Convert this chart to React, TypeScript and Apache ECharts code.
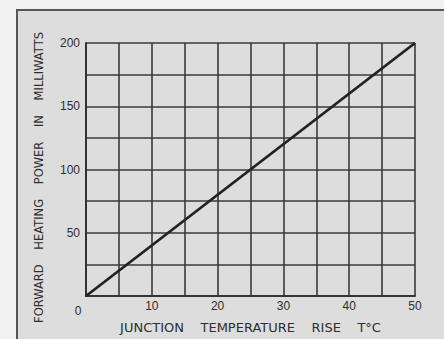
import React, { useEffect, useRef } from "react";
import * as echarts from "echarts";

const temperatureRise = [0, 50];
const heatingPower = [0, 200];
const xTickLabels = ["10", "20", "30", "40", "50"];
const yTickLabels = ["50", "100", "150", "200"];
const xAxisTitle = "JUNCTION    TEMPERATURE    RISE    T°C";
const yAxisTitle = "FORWARD    HEATING    POWER    IN    MILLIWATTS";

export default function App() {
  const ref = useRef<HTMLDivElement>(null);
  useEffect(() => {
    document.body.style.margin = "0";
    document.body.style.background = "#f1f1f1";
    const chart = echarts.init(ref.current!, null, { renderer: "svg" });
    const font = "Liberation Sans";
    const titleFont = "DejaVu Sans";
    const ink = "#2e2e2e";
    chart.setOption({
      animation: false,
      backgroundColor: "#f1f1f1",
      grid: { left: 86, right: 29, top: 43, bottom: 37 },
      graphic: [
        {
          type: "rect",
          z: -10,
          silent: true,
          shape: { x: 17, y: 10, width: 440, height: 340 },
          style: { fill: "#dddddd", stroke: "#555555", lineWidth: 2 },
        },
        {
          type: "text",
          x: 78,
          y: 311,
          style: {
            text: "0",
            font: `12px ${font}`,
            fill: ink,
            align: "center",
            verticalAlign: "middle",
          },
        },
      ],
      xAxis: {
        type: "value",
        min: 0,
        max: 50,
        interval: 5,
        name: xAxisTitle,
        nameLocation: "middle",
        nameGap: 25,
        nameTextStyle: { fontFamily: titleFont, fontSize: 13, color: ink },
        axisLine: { show: true, lineStyle: { color: "#333333", width: 2 } },
        axisTick: { show: false },
        splitLine: { show: true, lineStyle: { color: "#3a3a3a", width: 1.6 } },
        axisLabel: {
          fontFamily: font,
          fontSize: 12,
          color: ink,
          margin: 4,
          formatter: (v: number) => (xTickLabels.includes(String(v)) ? String(v) : ""),
        },
      },
      yAxis: {
        type: "value",
        min: 0,
        max: 200,
        interval: 25,
        name: yAxisTitle,
        nameLocation: "middle",
        nameGap: 41,
        nameRotate: 90,
        nameTextStyle: {
          fontFamily: titleFont,
          fontSize: 11.5,
          color: ink,
          padding: [0, 16, 0, 0],
        },
        axisLine: { show: true, lineStyle: { color: "#333333", width: 2 } },
        axisTick: { show: false },
        splitLine: { show: true, lineStyle: { color: "#3a3a3a", width: 1.6 } },
        axisLabel: {
          fontFamily: font,
          fontSize: 12,
          color: ink,
          margin: 6,
          formatter: (v: number) => (yTickLabels.includes(String(v)) ? String(v) : ""),
        },
      },
      series: [
        {
          type: "line",
          data: temperatureRise.map((t, i) => [t, heatingPower[i]]),
          showSymbol: false,
          lineStyle: { color: "#222222", width: 2.8 },
        },
      ],
    });
    return () => chart.dispose();
  }, []);
  return <div ref={ref} style={{ width: 444, height: 339, position: "absolute", left: 0, top: 0 }} />;
}
